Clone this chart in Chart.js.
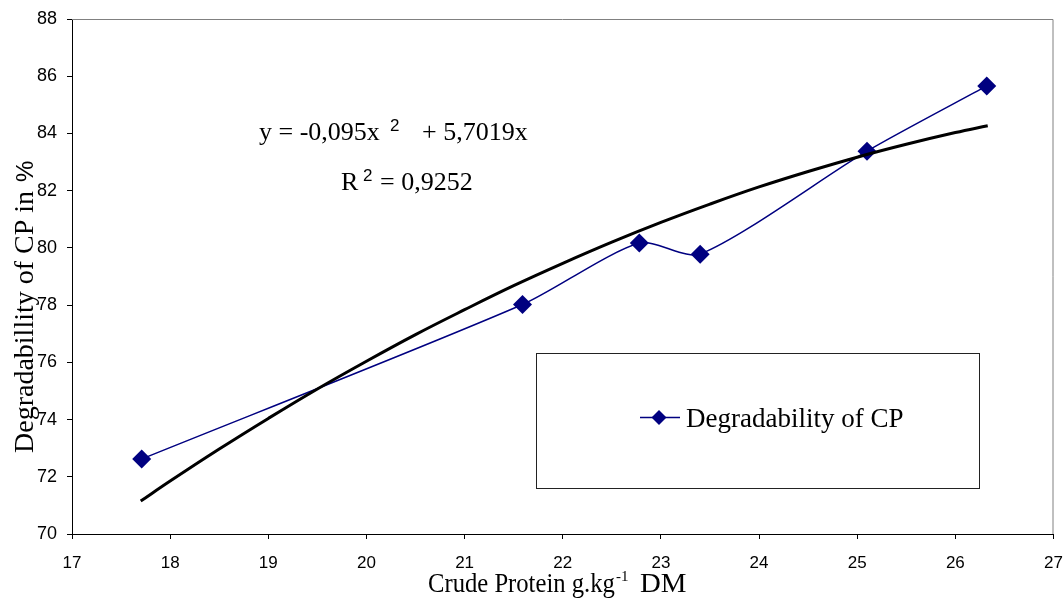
<!DOCTYPE html>
<html><head><meta charset="utf-8">
<script src="https://cdn.jsdelivr.net/npm/chart.js@4/dist/chart.umd.min.js"></script>
<style>html,body{margin:0;padding:0;background:#fff}#wrap{width:1063px;height:598px}</style>
</head><body><div id="wrap"><canvas id="c" width="1063" height="598"></canvas></div>
<script>
// ---- data ----
const crudeProtein = [17.71, 21.59, 22.78, 23.40, 25.10, 26.32];
const degradability = [72.62, 78.02, 80.17, 79.78, 83.38, 85.66];
const trendX = [17.7, 18, 18.5, 19, 19.5, 20, 20.5, 21, 21.5, 22, 22.5, 23, 23.5, 24, 24.5, 25, 25.5, 26, 26.33];
const trendY = [71.15, 71.85, 72.97, 74.04, 75.07, 76.04, 76.97, 77.84, 78.68, 79.46, 80.2, 80.89, 81.53, 82.13, 82.67, 83.17, 83.62, 84.03, 84.27];
const xTickValues = [17, 18, 19, 20, 21, 22, 23, 24, 25, 26, 27];
const yTickValues = [70, 72, 74, 76, 78, 80, 82, 84, 86, 88];
const seriesName = 'Degradability of CP';
const xTitle = ['Crude Protein g.kg', '-1', 'DM'];
const yTitle = ['Degradabillity of CP in', '%'];
const equationLine1 = ['y = -0,095x', '2', '+ 5,7019x'];
const equationLine2 = ['R', '2', '= 0,9252'];

const NAVY = '#000080';
const SERIF = '"Liberation Serif", "Times New Roman", serif';
const SANS = '"Liberation Sans", Arial, sans-serif';

function txt(ctx, s, x, y, font, opts) {
  opts = opts || {};
  ctx.save();
  ctx.translate(x, y);
  if (opts.rot) ctx.rotate(opts.rot);
  ctx.scale(opts.sx || 1, 1);
  ctx.font = font;
  ctx.fillStyle = '#000';
  ctx.textAlign = 'left';
  ctx.textBaseline = 'alphabetic';
  ctx.fillText(s, 0, 0);
  ctx.restore();
}

const decorations = {
  id: 'decorations',
  beforeDatasetsDraw(chart) {
    const { ctx, chartArea: a } = chart;
    ctx.save();
    ctx.strokeStyle = '#808080';
    ctx.lineWidth = 1;
    ctx.beginPath();
    ctx.moveTo(a.left, a.top + 0.5);
    ctx.lineTo(a.right - 0.5, a.top + 0.5);
    ctx.lineTo(a.right - 0.5, a.bottom);
    ctx.stroke();
    ctx.restore();
  },
  afterDraw(chart) {
    const { ctx } = chart;
    // equation
    txt(ctx, equationLine1[0], 259, 140, '26px ' + SERIF);
    txt(ctx, equationLine1[1], 390, 131, '17px ' + SANS);
    txt(ctx, equationLine1[2], 422, 140, '26px ' + SERIF);
    txt(ctx, equationLine2[0], 341, 190, '26px ' + SERIF);
    txt(ctx, equationLine2[1], 363, 181, '17px ' + SANS);
    txt(ctx, equationLine2[2], 380, 190, '26px ' + SERIF);
    // axis titles
    txt(ctx, xTitle[0], 428, 592, '28px ' + SERIF, { sx: 0.88 });
    txt(ctx, xTitle[1], 616, 581, '15px ' + SERIF);
    txt(ctx, xTitle[2], 640, 592, '28px ' + SERIF, { sx: 1.03 });
    txt(ctx, yTitle[0], 33, 453, '28px ' + SERIF, { rot: -Math.PI / 2 });
    txt(ctx, yTitle[1], 33, 182, '24px ' + SANS, { rot: -Math.PI / 2 });
    // legend
    ctx.save();
    ctx.fillStyle = '#fff';
    ctx.fillRect(536, 353, 444, 136);
    ctx.strokeStyle = '#222';
    ctx.lineWidth = 1;
    ctx.strokeRect(536.5, 353.5, 443, 135);
    ctx.strokeStyle = NAVY;
    ctx.lineWidth = 1.5;
    ctx.beginPath();
    ctx.moveTo(640, 417.5);
    ctx.lineTo(680, 417.5);
    ctx.stroke();
    ctx.fillStyle = NAVY;
    ctx.beginPath();
    ctx.moveTo(659, 410); ctx.lineTo(666.5, 417.5); ctx.lineTo(659, 425); ctx.lineTo(651.5, 417.5);
    ctx.closePath();
    ctx.fill();
    ctx.restore();
    txt(ctx, seriesName, 686, 427, '27px ' + SERIF);
  }
};

new Chart(document.getElementById('c'), {
  type: 'line',
  data: {
    datasets: [
      {
        label: 'Trend',
        data: trendX.map((x, i) => ({ x, y: trendY[i] })),
        borderColor: '#000',
        borderWidth: 3,
        pointRadius: 0,
        tension: 0.4,
        fill: false,
        order: 0
      },
      {
        label: seriesName,
        data: crudeProtein.map((x, i) => ({ x, y: degradability[i] })),
        borderColor: NAVY,
        borderWidth: 1.5,
        pointStyle: 'rectRot',
        pointRadius: 9.5,
        pointBackgroundColor: NAVY,
        pointBorderColor: NAVY,
        pointBorderWidth: 0,
        tension: 0.25,
        fill: false,
        order: 1
      }
    ]
  },
  options: {
    responsive: false,
    animation: false,
    devicePixelRatio: 1,
    layout: { padding: { top: 19, right: 6, left: 0, bottom: 0 } },
    plugins: { legend: { display: false }, tooltip: { enabled: false } },
    scales: {
      x: {
        type: 'linear', min: 17, max: 27,
        afterBuildTicks(s) { s.ticks = xTickValues.map(v => ({ value: v })); },
        ticks: { font: { family: SANS, size: 17 }, color: '#000', padding: 14, maxRotation: 0 },
        grid: { drawOnChartArea: false, drawTicks: true, tickLength: 5, color: '#000' },
        border: { display: true, color: '#000', width: 1 },
        afterFit(s) { s.height = 64; s.paddingLeft = 0; s.paddingRight = 0; }
      },
      y: {
        type: 'linear', min: 70, max: 88,
        afterBuildTicks(s) { s.ticks = yTickValues.map(v => ({ value: v })); },
        ticks: { font: { family: SANS, size: 18 }, color: '#000', padding: 10 },
        grid: { drawOnChartArea: false, drawTicks: true, tickLength: 5, color: '#000' },
        border: { display: true, color: '#000', width: 1 },
        afterFit(s) { s.width = 72; s.paddingTop = 0; s.paddingBottom = 0; }
      }
    }
  },
  plugins: [decorations]
});
</script>
</body></html>
